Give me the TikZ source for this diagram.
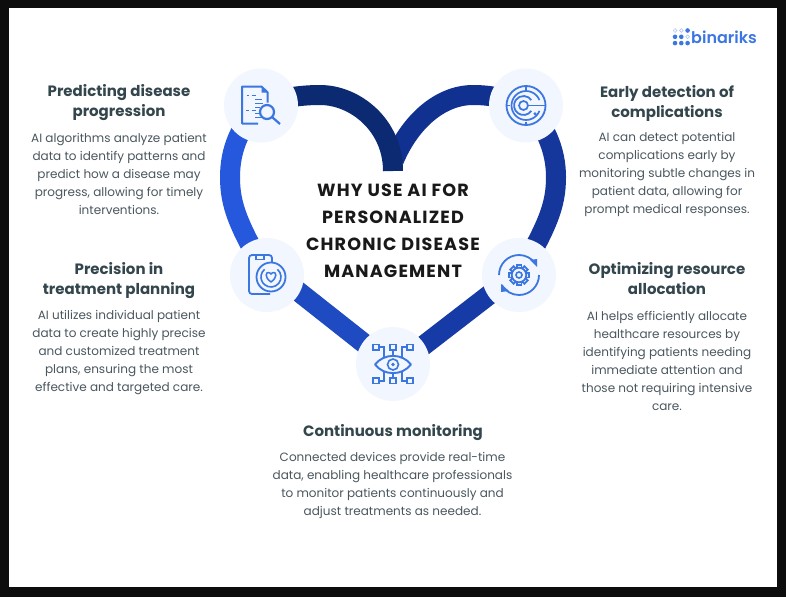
\documentclass[tikz,border=0pt]{standalone}
\usepackage{fontspec}
\setmainfont{Poppins}
\newfontfamily\titleb[LetterSpace=6.5]{Poppins Bold}
\newfontfamily\headfont{Poppins Bold}
\newfontfamily\logofont{Poppins SemiBold}
\definecolor{iconblue}{HTML}{3B76E1}
\definecolor{halo}{HTML}{F2F6FE}
\definecolor{headc}{HTML}{34464D}
\definecolor{bodyc}{HTML}{4A575E}
\definecolor{bgframe}{HTML}{0D0D0D}
\definecolor{bandA}{HTML}{0B2A72}
\definecolor{bandB}{HTML}{10318F}
\definecolor{bandC}{HTML}{15369B}
\definecolor{bandD}{HTML}{173BA6}
\definecolor{bandE}{HTML}{1E4BC2}
\definecolor{bandF}{HTML}{2558DC}
\tikzset{
  band/.style={line width=20pt,line cap=butt},
  iconbg/.style={circle,fill=halo,minimum size=74pt,inner sep=0pt},
  ic/.style={draw=iconblue,line width=1.6pt,fill=none},
  head/.style={align=center,text=headc,font=\headfont\fontsize{15}{20}\selectfont,inner sep=0pt},
  body/.style={align=center,text=bodyc,font=\fontsize{12.03}{18}\selectfont,inner sep=0pt},
  titletext/.style={align=center,text=black!90,font=\titleb\fontsize{17.6}{27}\selectfont,inner sep=0pt},
}
\begin{document}
\begin{tikzpicture}[x=1pt,y=-1pt]
\useasboundingbox (0,0) rectangle (786,597);
\fill[bgframe] (0,0) rectangle (786,597);
\fill[white] (9,8) rectangle (777,587);
% anchors
\coordinate (c1) at (261,105.5);
\coordinate (c2) at (526,105.5);
\coordinate (c3) at (267,275);
\coordinate (c4) at (519,275);
\coordinate (c5) at (393,364);
\coordinate (sl1) at (280,277);
\coordinate (sl2) at (375,352);
\coordinate (sr1) at (500,286.5);
\coordinate (sr2) at (410,356);
% heart
\draw[band,color=bandB] (394,160) .. controls (410,122) and (440,95) .. (473,95) .. controls (490,95) and (505,98) .. (526,105.5);
\draw[band,color=bandC] (526,105.5) .. controls (545,125) and (556,150) .. (556,177) .. controls (556,205) and (548,225) .. (519,275);
\draw[band,color=bandD] (sr1) -- (sr2);
\draw[band,color=bandE] (sl1) -- (sl2);
\draw[band,color=bandF] (261,105.5) .. controls (240,125) and (230,150) .. (230,177) .. controls (230,205) and (238,225) .. (267,275);
\draw[band,color=bandA] (393,171) .. controls (393,125) and (355,95) .. (320,95) .. controls (300,95) and (280,98) .. (261,105.5);
% halos
\node[iconbg] (n1) at (c1) {};
\node[iconbg] (n2) at (c2) {};
\node[iconbg] (n3) at (c3) {};
\node[iconbg] (n4) at (c4) {};
\node[iconbg] (n5) at (c5) {};
% icon 1: document + magnifier
\begin{scope}[shift={(c1)}]
\draw[ic,line width=2pt,line join=round] (6.7,-3) -- (6.7,-13) -- (0.5,-19) -- (-19,-19) -- (-19,18) -- (-3,18);
\fill[iconblue] (0.5,-19) -- (6.7,-13) -- (0.5,-13) -- cycle;
\draw[ic,line width=2.2pt] (6,6.5) circle (7);
\draw[ic,line width=2.2pt] (11,11.5) -- (19,18.5);
\draw[ic,line width=1.5pt] (-14.5,-10) -- (-12.5,-10) (-9.5,-10) -- (-5,-10) (-6,-6) -- (1,-6) (-6,-2) -- (2,-2) (-6,2) -- (-1,2)
 (-15,5) -- (-12.5,5) (-9.5,5) -- (-5,5) (-6,8) -- (-1,8) (-6,12) -- (1,12);
\end{scope}
% icon 2: radar
\begin{scope}[shift={(c2)}]
\draw[ic,line width=1.8pt] (0,0) circle (19.5);
\draw[ic,line width=1.7pt] (22:14.5) arc (22:338:14.5);
\draw[ic,line width=1.8pt] (-2.5,0) ++(35:9.5) arc (35:325:9.5);
\draw[ic,line width=1.7pt] (-2.5,0) circle (4.5);
\draw[ic,line width=1.5pt] (2,0) -- (19.5,0);
\draw[ic,line width=1.4pt] (0,-19.5) -- (0,-16) (0,19.5) -- (0,16) (-19.5,0) -- (-16,0);
\fill[iconblue] (9,8.3) circle (1.7);
\end{scope}
% icon 3: phone + heart
\begin{scope}[shift={(c3)}]
\draw[ic,line width=1.8pt,rounded corners=3pt] (3,19) -- (-18,19) -- (-18,-20) -- (5,-20) -- (5,-12);
\draw[ic] (-11,-20) -- (-11,-15.5) -- (-3,-15.5) -- (-3,-20);
\draw[ic,line width=1.8pt,fill=halo] (4,2) circle (14.5);
\draw[ic] (4,2) ++(-50:10) arc (-50:230:10);
\draw[ic,line width=1.5pt,line join=round] (4,7) .. controls (-3,2) and (-1,-3) .. (1.5,-2.5) .. controls (3,-2.5) and (4,-1) .. (4,-1) .. controls (4,-1) and (5,-2.5) .. (6.5,-2.5) .. controls (9,-3) and (11,2) .. (4,7) -- cycle;
\end{scope}
% icon 4: gear + arrows
\begin{scope}[shift={(c4)}]
\draw[ic,line width=1.8pt] (180:20) arc (180:325:20);
\draw[ic,line width=1.8pt] (0:20) arc (0:150:20);
\fill[iconblue] (11,-15) -- (18,-16) -- (18,-8) -- cycle;
\fill[iconblue] (-18,9) -- (-18,17) -- (-10,16) -- cycle;
\foreach \a in {0,45,...,315}{\draw[ic,line width=1.8pt,rotate=\a] (-2.4,-7) -- (-2.4,-10) -- (2.4,-10) -- (2.4,-7);}
\draw[ic,line width=1.8pt] (0,0) circle (7.3);
\draw[ic,line width=1.6pt] (0,0) circle (3);
\end{scope}
% icon 5: eye with circuits
\begin{scope}[shift={(c5)}]
\draw[ic,line join=round,line width=1.9pt] (-18,0.5) .. controls (-9,-11) and (9,-11) .. (18,0.5) .. controls (9,12) and (-9,12) .. (-18,0.5) -- cycle;
\draw[ic,line width=1.6pt] (0,0.5) circle (5.5);
\fill[iconblue] (0,0.5) circle (1.8);
\foreach \s in {-1,1}{
 \draw[ic,line width=1.7pt] (\s*14,-19.5) rectangle (\s*20,-14);
 \draw[ic,line width=1.7pt] (\s*14,19.5) rectangle (\s*20,14);
 \draw[ic,line width=1.6pt] (\s*14,-17) -- (\s*9,-17) -- (\s*9,-7);
 \draw[ic,line width=1.6pt] (\s*14,17) -- (\s*9,17) -- (\s*9,8);
}
\draw[ic,line width=1.7pt] (-2.8,-14) rectangle (2.8,-19.5) (-2.8,14) rectangle (2.8,19.5);
\draw[ic,line width=1.6pt] (0,-14) -- (0,-9) (0,14) -- (0,10);
\end{scope}
% title
\node[titletext] (ttl) at (393,231) {WHY USE AI FOR\\PERSONALIZED\\CHRONIC DISEASE\\MANAGEMENT};
% texts
\node[head] (h1) at (119,103) {Predicting disease\\progression};
\node[body] (b1) at (119,174) {AI algorithms analyze patient\\data to identify patterns and\\predict how a disease may\\progress, allowing for timely\\interventions.};
\node[head] (h2) at (119,281) {Precision in\\treatment planning};
\node[body] (b2) at (119,352.5) {AI utilizes individual patient\\data to create highly precise\\and customized treatment\\plans, ensuring the most\\effective and targeted care.};
\node[head] (h3) at (667,103) {Early detection of\\complications};
\node[body] (b3) at (667,174.5) {AI can detect potential\\complications early by\\monitoring subtle changes in\\patient data, allowing for\\prompt medical responses.};
\node[head] (h4) at (667,279) {Optimizing resource\\allocation};
\node[body] (b4) at (667,361) {AI helps efficiently allocate\\healthcare resources by\\identifying patients needing\\immediate attention and\\those not requiring intensive\\care.};
\node[head] (h5) at (393,433) {Continuous monitoring};
\node[body] (b5) at (392.5,485.5) {Connected devices provide real-time\\data, enabling healthcare professionals\\to monitor patients continuously and\\adjust treatments as needed.};
% logo
\node[text=iconblue,font=\logofont\fontsize{16}{16}\selectfont,inner sep=0pt,anchor=base west] (logo) at (691,43.5) {binariks};
\foreach \i in {0,1,2}{
 \foreach \j in {0,1,2}{
  \ifnum\j=0 \ifnum\i<2 \draw[iconblue!45,line width=.5pt] ({675+\i*6.3},{30.5}) circle (1.9); \else \fill[iconblue] ({675+\i*6.3},{30.5}) circle (2.3);\fi
  \else \ifnum\i=2 \ifnum\j=1 \draw[iconblue!45,line width=.5pt] ({675+\i*6.3},{30.5+\j*6.3}) circle (1.9);\else \fill[iconblue] ({675+\i*6.3},{30.5+\j*6.3}) circle (2.3);\fi
  \else \fill[iconblue] ({675+\i*6.3},{30.5+\j*6.3}) circle (2.3);\fi\fi
 }
}
\end{tikzpicture}
\end{document}
